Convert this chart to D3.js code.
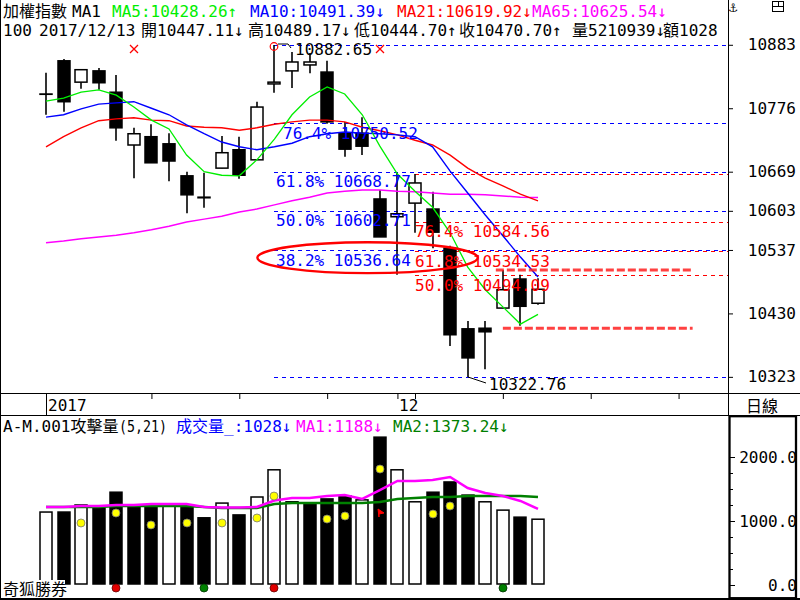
<!DOCTYPE html>
<html>
<head>
<meta charset="utf-8">
<script src="https://cdn.jsdelivr.net/npm/d3@7/dist/d3.min.js"></script>
<style>
  html, body { margin: 0; padding: 0; background: #fff; }
  svg { display: block; font-family: "DejaVu Sans Mono", "Noto Sans CJK TC", monospace; font-size: 16px; }
</style>
</head>
<body>
<svg id="chart" width="800" height="600"></svg>
<script>
// daily candles (last one = 2017/12/13)
var openP  = [10800, 10856, 10820, 10839, 10803, 10714, 10728, 10716, 10662, 10626, 10675, 10706, 10689, 10817, 10839, 10849, 10837, 10733, 10734, 10623, 10593, 10616, 10606, 10540, 10404, 10405, 10439, 10488, 10447.11];
var highP  = [10836, 10859, 10842, 10844, 10832, 10743, 10749, 10734, 10669, 10667, 10729, 10728, 10787, 10882.65, 10871, 10869, 10856, 10753, 10761, 10638, 10667, 10665, 10635, 10544, 10417, 10417, 10503, 10495, 10489.17];
var lowP   = [10765, 10770, 10809, 10807, 10721, 10658, 10684, 10653, 10599, 10608, 10675, 10657, 10689, 10802, 10810, 10835, 10750, 10694, 10697, 10559, 10495, 10566, 10540, 10375, 10322.76, 10336, 10439, 10409, 10444.70];
var closeP = [10800, 10787, 10841, 10819, 10743, 10733, 10684, 10687, 10630, 10625, 10701, 10663, 10778, 10820, 10854, 10854, 10753, 10707, 10712, 10559, 10598, 10650, 10567, 10394, 10355, 10399, 10470, 10442, 10470.70];

var ma5  = [10788, 10793, 10803, 10807, 10798, 10778, 10756, 10741, 10697, 10669, 10663, 10662, 10689, 10724, 10765, 10795, 10812, 10800, 10765, 10712, 10665, 10636, 10609, 10566, 10508, 10470, 10441, 10412, 10428.26];
var ma10 = [10761, 10765, 10775, 10783, 10785, 10787, 10776, 10765, 10748, 10733, 10719, 10711, 10706, 10711, 10717, 10728, 10733, 10736, 10734, 10733, 10731, 10728, 10711, 10670, 10633, 10596, 10561, 10525, 10491.39];
var ma21 = [10711, 10728, 10743, 10755, 10758, 10760, 10756, 10755, 10746, 10744, 10743, 10739, 10743, 10749, 10753, 10756, 10756, 10753, 10744, 10738, 10731, 10722, 10714, 10697, 10675, 10658, 10645, 10631, 10619.92];
var ma65 = [10549, 10552, 10556, 10559, 10562, 10566, 10571, 10577, 10584, 10589, 10594, 10601, 10606, 10613, 10620, 10626, 10633, 10636, 10638, 10638, 10636, 10635, 10633, 10631, 10631, 10630, 10628, 10626, 10625.54];

// volume panel
var volume = [1140, 1140, 1250, 1200, 1450, 1250, 1250, 1250, 1250, 1050, 1280, 1095, 1375, 1800, 1300, 1280, 1345, 1390, 1330, 2310, 1800, 1300, 1450, 1610, 1405, 1300, 1170, 1060, 1028];
var volUp  = [1, 0, 1, 0, 0, 0, 0, 1, 0, 0, 1, 0, 1, 1, 1, 0, 0, 0, 1, 0, 1, 1, 0, 0, 0, 1, 1, 0, 1];
var volMa1 = [1219, 1219, 1234, 1234, 1250, 1250, 1266, 1266, 1266, 1219, 1210, 1210, 1219, 1320, 1359, 1359, 1391, 1406, 1344, 1484, 1625, 1625, 1641, 1688, 1516, 1438, 1391, 1313, 1188];
var volMa2 = [1219, 1219, 1219, 1219, 1234, 1234, 1234, 1234, 1234, 1219, 1203, 1203, 1203, 1266, 1281, 1281, 1281, 1281, 1281, 1297, 1344, 1359, 1375, 1375, 1391, 1391, 1391, 1391, 1373.24];
var dotIdx = [2, 4, 6, 8, 10, 12, 13, 16, 17, 19, 22, 23];
var dotVal = [969, 1125, 938, 969, 969, 1047, 1390, 1031, 1078, 1812, 1109, 1234];
var redDotIdx = [4, 13];
var greenDotIdx = [9, 26];
var flagIdx = 19, flagVal = 1125;
var crossIdx = [5, 19];

// axes
var priceTicks = [10883, 10776, 10669, 10603, 10537, 10430, 10323];
var volTicks = [0, 250, 500, 750, 1000, 1250, 1500, 1750, 2000];
var dateTicks = [6, 11, 16, 20, 21, 26, 31, 36];
var dateLabels = [{ i: 0, t: '2017' }, { i: 20, t: '12' }];

// fibonacci levels
var fibHigh = 10882.65, fibLow = 10322.76;
var fibBlue = [{ p: '76.4%', v: 10750.52 }, { p: '61.8%', v: 10668.77 }, { p: '50.0%', v: 10602.71 }, { p: '38.2%', v: 10536.64 }];
var fibRedTop = 10665.4;
var fibRed = [{ p: '76.4%', v: 10584.56 }, { p: '61.8%', v: 10534.53 }, { p: '50.0%', v: 10494.09 }];
var guides = [{ v: 10503, from: 25.6, to: 36.8 }, { v: 10405, from: 26, to: 36.8 }];
</script>
<script>
var svg = d3.select('#chart');
var x = d3.scaleLinear().domain([0, 28]).range([46, 538]);
var y = d3.scaleLinear().domain([fibLow, fibHigh]).range([377, 45]);
var yv = d3.scaleLinear().domain([0, 2000]).range([585, 457]);
var idx = d3.range(openP.length);
var cx = function (i) { return Math.round(x(i)); };
var right = 728;

svg.append('rect').attr('width', 800).attr('height', 600).attr('fill', '#fff');

// frame lines
var frame = svg.append('g').attr('stroke', '#000').attr('fill', 'none');
frame.append('line').attr('x1', 0.5).attr('x2', 0.5).attr('y1', 0).attr('y2', 600);
frame.append('line').attr('x1', right + 0.5).attr('x2', right + 0.5).attr('y1', 0).attr('y2', 416);
frame.append('line').attr('x1', 0).attr('x2', 800).attr('y1', 393.5).attr('y2', 393.5);
frame.append('line').attr('x1', 0).attr('x2', 800).attr('y1', 415.5).attr('y2', 415.5);
frame.append('line').attr('x1', 0).attr('x2', 800).attr('y1', 599).attr('y2', 599).attr('stroke-width', 2);
frame.append('rect').attr('x', 729.5).attr('y', 416.2).attr('width', 66.5).attr('height', 182)
    .attr('stroke-width', 2.3);

// fib dashed lines
var fib = svg.append('g').attr('fill', 'none').attr('stroke-width', 1).attr('shape-rendering', 'crispEdges');
[fibHigh].concat(fibBlue.map(d => d.v), [fibLow]).forEach(function (v) {
    fib.append('line').attr('x1', Math.round(x(13))).attr('x2', right)
        .attr('y1', Math.round(y(v)) + 0.5).attr('y2', Math.round(y(v)) + 0.5)
        .attr('stroke', '#0000ff').attr('stroke-dasharray', '4,4');
});
[fibRedTop].concat(fibRed.map(d => d.v)).forEach(function (v) {
    fib.append('line').attr('x1', Math.round(x(21))).attr('x2', right)
        .attr('y1', Math.round(y(v)) + 0.5).attr('y2', Math.round(y(v)) + 0.5)
        .attr('stroke', '#ff0000').attr('stroke-dasharray', '4,4');
});

// candles
var cg = svg.append('g');
var candle = cg.selectAll('g').data(idx).join('g');
candle.append('line')
    .attr('x1', i => cx(i)).attr('x2', i => cx(i))
    .attr('y1', i => y(highP[i])).attr('y2', i => y(lowP[i]))
    .attr('stroke', '#000').attr('stroke-width', 1.6);
candle.append('rect')
    .attr('x', i => cx(i) - 6).attr('width', 12)
    .attr('y', i => y(Math.max(openP[i], closeP[i])))
    .attr('height', i => Math.max(Math.abs(y(openP[i]) - y(closeP[i])), 0.3))
    .attr('fill', i => closeP[i] > openP[i] ? '#fff' : '#000')
    .attr('stroke', '#000').attr('stroke-width', 1.5);

// moving averages
var line = d3.line().x((d, i) => x(i)).y(d => y(d));
[[ma65, '#ff00ff', 1.5], [ma21, '#ff0000', 1.4], [ma10, '#0000ff', 1.4], [ma5, '#00ee00', 1.3]].forEach(function (m) {
    svg.append('path').datum(m[0]).attr('d', line)
        .attr('fill', 'none').attr('stroke', m[1]).attr('stroke-width', m[2]);
});

// fib labels
var lab = svg.append('g');
fibBlue.forEach(function (d, k) {
    lab.append('text').attr('x', k === 0 ? 283 : 276).attr('y', y(d.v) + 15.5)
        .attr('fill', '#0000ff').text(d.p + ' ' + d.v.toFixed(2));
});
fibRed.forEach(function (d) {
    lab.append('text').attr('x', 415).attr('y', y(d.v) + 15.5)
        .attr('fill', '#ff0000').text(d.p + ' ' + d.v.toFixed(2));
});
// high / low annotations
lab.append('circle').attr('cx', cx(13)).attr('cy', y(fibHigh) + 1.5).attr('r', 3.8)
    .attr('fill', 'none').attr('stroke', '#ff0000').attr('stroke-width', 1.2);
lab.append('path').attr('d', 'M' + (cx(13) + 4) + ',' + (y(fibHigh) - 1) + 'h10l3,4')
    .attr('fill', 'none').attr('stroke', '#000');
lab.append('text').attr('x', 295).attr('y', y(fibHigh) + 9.5).attr('fill', '#000').text(fibHigh.toFixed(2));
lab.append('path').attr('d', 'M' + cx(24) + ',' + y(fibLow) + 'l18,6')
    .attr('fill', 'none').attr('stroke', '#000');
lab.append('text').attr('x', 489).attr('y', y(fibLow) + 13).attr('fill', '#000').text(fibLow.toFixed(2));

// thick red guide lines
guides.forEach(function (d) {
    svg.append('line').attr('x1', x(d.from)).attr('x2', x(d.to))
        .attr('y1', y(d.v)).attr('y2', y(d.v))
        .attr('stroke', '#ff2020').attr('stroke-width', 3).attr('stroke-dasharray', '8,3').attr('opacity', 0.85);
});

// ellipse
svg.append('ellipse').attr('cx', x(18.3)).attr('cy', y(10524))
    .attr('rx', x(6.27) - x(0)).attr('ry', y(10524) - y(10550))
    .attr('fill', 'none').attr('stroke', '#ff0000').attr('stroke-width', 2.4);

// red crosses
crossIdx.forEach(function (i) {
    var px = cx(i), py = 49;
    svg.append('path').attr('d', 'M' + (px - 4) + ',' + (py - 4) + 'l8,8M' + (px + 4) + ',' + (py - 4) + 'l-8,8')
        .attr('stroke', '#ff0000').attr('stroke-width', 1.3);
});

// price axis
var ax = svg.append('g').attr('transform', 'translate(' + right + ',0)')
    .call(d3.axisRight(y).tickValues(priceTicks).tickSize(5).tickFormat(d3.format('d')));
ax.select('.domain').remove();
ax.selectAll('text').attr('x', 68).attr('text-anchor', 'end').attr('font-size', 16)
    .attr('font-family', 'DejaVu Sans Mono').attr('fill', '#000');

// date axis
var dx = svg.append('g').attr('transform', 'translate(0,393)')
    .call(d3.axisBottom(x).tickValues(dateTicks).tickSize(6).tickFormat(''));
dx.select('.domain').remove();
dateLabels.forEach(function (d) {
    if (d.i === 0) {
        svg.append('line').attr('x1', cx(d.i) + 0.5).attr('x2', cx(d.i) + 0.5).attr('y1', 393).attr('y2', 415).attr('stroke', '#000');
    }
    svg.append('text').attr('x', cx(d.i) + 2).attr('y', 411).text(d.t);
});
svg.append('text').attr('x', 762).attr('y', 412).attr('text-anchor', 'middle').text('日線');

// top-right icons
svg.append('text').attr('x', 733).attr('y', 12).attr('font-size', 14).attr('text-anchor', 'middle').text('⚓');
svg.append('rect').attr('x', 772.5).attr('y', 1.5).attr('width', 11).attr('height', 10).attr('fill', 'none').attr('stroke', '#000');
svg.append('path').attr('d', 'M772.5,6.5h11M778.5,1.5v5').attr('stroke', '#000');

// volume bars
var vb = svg.append('g');
vb.selectAll('rect').data(idx).join('rect')
    .attr('x', i => cx(i) - 6).attr('width', 12)
    .attr('y', i => yv(volume[i])).attr('height', i => yv(0) - yv(volume[i]) - 1)
    .attr('fill', i => volUp[i] ? '#fff' : '#000')
    .attr('stroke', '#000').attr('stroke-width', 1.5);

var vline = d3.line().x((d, i) => x(i)).y(d => yv(d));
svg.append('path').datum(volMa2).attr('d', vline).attr('fill', 'none').attr('stroke', '#008000').attr('stroke-width', 2.5);
svg.append('path').datum(volMa1).attr('d', vline).attr('fill', 'none').attr('stroke', '#ff00ff').attr('stroke-width', 2.5);

svg.append('g').selectAll('circle').data(dotIdx).join('circle')
    .attr('cx', (d, k) => cx(d)).attr('cy', (d, k) => yv(dotVal[k])).attr('r', 4)
    .attr('fill', '#ffff00').attr('stroke', '#777').attr('stroke-width', 0.8);

redDotIdx.forEach(function (i) {
    svg.append('circle').attr('cx', cx(i)).attr('cy', 588).attr('r', 4).attr('fill', '#e00000').attr('stroke', '#600').attr('stroke-width', 0.8);
});
greenDotIdx.forEach(function (i) {
    svg.append('circle').attr('cx', cx(i)).attr('cy', 588).attr('r', 4).attr('fill', '#008000').attr('stroke', '#030').attr('stroke-width', 0.8);
});
svg.append('path')
    .attr('d', 'M' + (cx(flagIdx) - 2) + ',' + (yv(flagVal) - 4) + 'l6,4l-5,1l0,3z')
    .attr('fill', '#ff0000').attr('stroke', '#ff0000').attr('stroke-width', 1);

// volume axis
var vax = svg.append('g').attr('transform', 'translate(' + (right + 2) + ',0)')
    .call(d3.axisRight(yv).tickValues(volTicks).tickSize(5)
        .tickFormat(d => d % 1000 === 0 ? d.toFixed(1) : ''));
vax.select('.domain').remove();
vax.selectAll('.tick line').attr('x2', d => d % 1000 === 0 ? 5 : 3);
vax.selectAll('text').attr('x', 67).attr('text-anchor', 'end').attr('font-size', 16)
    .attr('font-family', 'DejaVu Sans Mono').attr('fill', '#000');

// header texts
var header1 = [['加權指數', 3, '#000'], ['MA1', 72, '#000'], ['MA5:10428.26↑', 112, '#00ee00'],
    ['MA10:10491.39↓', 250, '#0000ff'], ['MA21:10619.92↓', 397, '#ff0000'], ['MA65:10625.54↓', 532, '#ff00ff']];
var header2 = [['100', 3], ['2017/12/13', 39], ['開10447.11↓', 141], ['高10489.17↓', 248],
    ['低10444.70↑', 354], ['收10470.70↑', 459], ['量5210939↓', 572], ['額1028', 663]];
var header3 = [['A-M.001攻擊量', 3, '#000', 0], ['(5,21)', 119, '#000', 48], ['成交量_:1028↓', 176, '#0000ff', 0],
    ['MA1:1188↓', 296, '#ff00ff', 0], ['MA2:1373.24↓', 393, '#008000', 0]];

svg.append('defs').append('clipPath').attr('id', 'hclip').append('rect').attr('width', right).attr('height', 60);
var ht = svg.append('g').attr('clip-path', 'url(#hclip)');
header1.forEach(function (h) { ht.append('text').attr('x', h[1]).attr('y', 17).attr('fill', h[2]).text(h[0]); });
header2.forEach(function (h) { ht.append('text').attr('x', h[1]).attr('y', 36).attr('fill', '#000').text(h[0]); });
header3.forEach(function (h) {
    var t = svg.append('text').attr('x', h[1]).attr('y', 432).attr('fill', h[2]).text(h[0]);
    if (h[3]) t.attr('textLength', h[3]).attr('lengthAdjust', 'spacingAndGlyphs');
});

svg.append('rect').attr('x', 1).attr('y', 580).attr('width', 64).attr('height', 18).attr('fill', '#fff');
svg.append('text').attr('x', 3).attr('y', 595).text('奇狐勝券');
</script>
</body>
</html>
